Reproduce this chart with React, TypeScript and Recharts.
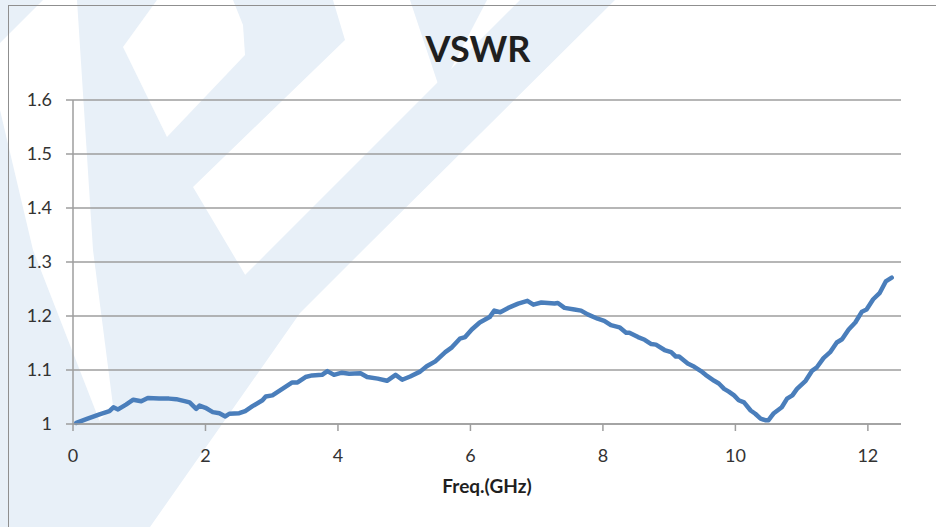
import React from "react";
import { CartesianGrid, Line, LineChart, XAxis, YAxis } from "recharts";

const freq = [
  0.05, 0.2, 0.4, 0.55, 0.61, 0.68, 0.8, 0.91, 1.03, 1.13, 1.3, 1.45, 1.56, 1.7,
  1.76, 1.86, 1.91, 2.0, 2.11, 2.21, 2.3, 2.36, 2.51, 2.6, 2.71, 2.86, 2.91,
  3.01, 3.16, 3.31, 3.39, 3.51, 3.61, 3.76, 3.84, 3.94, 4.06, 4.17, 4.34, 4.44,
  4.6, 4.74, 4.87, 4.97, 5.09, 5.24, 5.34, 5.47, 5.62, 5.72, 5.84, 5.92, 6.02,
  6.14, 6.29, 6.36, 6.45, 6.57, 6.72, 6.86, 6.95, 7.07, 7.17, 7.27, 7.32, 7.42,
  7.57, 7.67, 7.77, 7.92, 8.02, 8.12, 8.25, 8.35, 8.4, 8.53, 8.63, 8.73, 8.8,
  8.93, 9.03, 9.1, 9.15, 9.28, 9.38, 9.48, 9.55, 9.68, 9.75, 9.83, 9.9, 9.98,
  10.05, 10.13, 10.23, 10.3, 10.38, 10.45, 10.5, 10.58, 10.7, 10.78, 10.86,
  10.93, 11.06, 11.16, 11.23, 11.33, 11.43, 11.53, 11.61, 11.71, 11.81, 11.91,
  11.98, 12.08, 12.18, 12.27, 12.36,
];

const vswr = [
  1.002, 1.009, 1.018, 1.024, 1.031, 1.027, 1.036, 1.045, 1.042, 1.048, 1.047,
  1.047, 1.046, 1.042, 1.04, 1.028, 1.034, 1.03, 1.022, 1.02, 1.014, 1.019, 1.02,
  1.024, 1.033, 1.044, 1.051, 1.053, 1.065, 1.077, 1.077, 1.087, 1.09, 1.091,
  1.098, 1.091, 1.095, 1.093, 1.094, 1.087, 1.084, 1.08, 1.091, 1.082, 1.088,
  1.097, 1.107, 1.116, 1.133, 1.142, 1.158, 1.161, 1.175, 1.188, 1.198, 1.21,
  1.207, 1.215, 1.223, 1.228, 1.221, 1.225, 1.224, 1.223, 1.224, 1.215, 1.212,
  1.21, 1.203, 1.195, 1.191, 1.183, 1.179, 1.169, 1.169, 1.161, 1.156, 1.148,
  1.147, 1.137, 1.133, 1.125, 1.125, 1.112, 1.106, 1.098, 1.091, 1.08, 1.075,
  1.065, 1.06, 1.053, 1.044, 1.04, 1.025, 1.019, 1.01, 1.007, 1.007, 1.02, 1.031,
  1.047, 1.053, 1.065, 1.08, 1.099, 1.105, 1.122, 1.133, 1.151, 1.157, 1.175,
  1.188, 1.208, 1.212, 1.231, 1.243, 1.264, 1.271,
];

const xTicks = [0, 2, 4, 6, 8, 10, 12];
const yTicks = [1, 1.1, 1.2, 1.3, 1.4, 1.5, 1.6];

const FONT = "Lato, 'Open Sans', sans-serif";
const GRID = "#9e9e9e";
const MARK = "#e8f0f8";

const data = freq.map((f, i) => ({ freq: f, vswr: vswr[i] }));

// faint logo watermark behind the chart (decoration only)
function Watermark() {
  return (
    <svg width={936} height={527} style={{ position: "absolute", left: 0, top: 0 }}>
      <polygon fill={MARK} points="0,0 43,0 0,43" />
      <polygon
        fill={MARK}
        points="77,0 333,0 345,40 193,187 250,283 140,400 117,437 93,250"
      />
      <polygon fill={MARK} points="410,0 487,0 440,90" />
      <polygon
        fill={MARK}
        points="520,0 615,0 363,250 300,313 150,527 0,527 0,520"
      />
      <polygon fill={MARK} points="0,110 33,250 105,435 112,445 20,527 0,527" />
      <polygon fill="#fff" points="157,0 233,0 243,25 245,55 167,137 123,47" />
    </svg>
  );
}

export default function App() {
  return (
    <div
      style={{
        position: "absolute",
        left: 0,
        top: 0,
        width: 936,
        height: 527,
        overflow: "hidden",
        background: "#fff",
        fontFamily: FONT,
      }}
    >
      <Watermark />
      <div
        style={{
          position: "absolute",
          left: 8,
          top: 5,
          width: 1000,
          height: 600,
          borderLeft: "1.5px solid #8f8f8f",
          borderTop: "1.5px solid #8f8f8f",
        }}
      />
      <svg width={936} height={527} style={{ position: "absolute", left: 0, top: 0 }}>
        <text
          x={478}
          y={62}
          textAnchor="middle"
          fontSize={36}
          fontWeight="bold"
          fill="#1f1f1f"
          fontFamily={FONT}
        >
          VSWR
        </text>
      </svg>
      <div style={{ position: "absolute", left: 0, top: 0 }}>
        <LineChart
          width={936}
          height={527}
          data={data}
          margin={{ top: 100, right: 35, bottom: 0, left: 0 }}
        >
          <CartesianGrid vertical={false} stroke={GRID} strokeWidth={1.5} />
          <XAxis
            dataKey="freq"
            type="number"
            domain={[0, 12.5]}
            ticks={xTicks}
            height={103}
            stroke={GRID}
            strokeWidth={1.5}
            tickSize={7}
            tickMargin={18}
            tick={{ fill: "#333", fontSize: 18, fontFamily: FONT }}
            label={{
              value: "Freq.(GHz)",
              position: "insideBottom",
              offset: 34,
              fill: "#1f1f1f",
              fontSize: 19,
              fontWeight: "bold",
              fontFamily: FONT,
            }}
          />
          <YAxis
            type="number"
            domain={[1, 1.6]}
            ticks={yTicks}
            width={73}
            stroke={GRID}
            strokeWidth={1.5}
            tickSize={7}
            tickMargin={14}
            tickFormatter={(v: number) => (v === 1 ? "1" : v.toFixed(1))}
            tick={{ fill: "#333", fontSize: 18, fontFamily: FONT }}
          />
          <Line
            type="linear"
            dataKey="vswr"
            stroke="#4a7ebb"
            strokeWidth={4.5}
            strokeLinejoin="round"
            strokeLinecap="round"
            dot={false}
            isAnimationActive={false}
          />
        </LineChart>
      </div>
    </div>
  );
}
